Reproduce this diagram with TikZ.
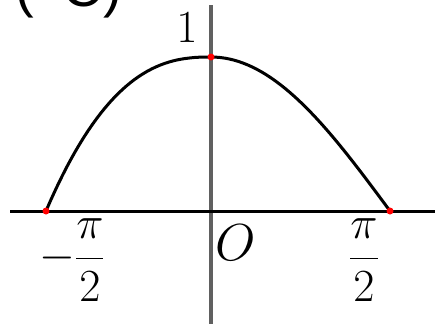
\RequirePackage{fix-cm}
\documentclass[tikz,border=0pt]{standalone}
\usepackage{amsmath}
\usepackage{fontspec}
\newfontfamily\headfont{Liberation Sans}
\usetikzlibrary{positioning}

\begin{document}
\begin{tikzpicture}[x=1pt,y=-1pt,
    lbl/.style={inner sep=0pt,font=\fontsize{46}{56}\selectfont},
    head/.style={inner sep=0pt,font=\headfont\fontsize{56}{60}\selectfont},
    dot/.style={circle,fill=red,inner sep=0pt,minimum size=7pt}]
    \useasboundingbox (0,0) rectangle (435,324);

    % Title (cut off at the top)
    \node[head, anchor=base west] (title) at (15,6) {(};
    \node[head, anchor=base east] (titlec) at (122,6) {C)};

    % Axes
    \coordinate (xl) at (10,211);
    \coordinate (xr) at (435,211);
    \coordinate (yt) at (211,5);
    \coordinate (yb) at (211,324);
    \draw[gray!75!black, line width=4pt] (yt) -- (yb);
    \draw[black, line width=3pt] (xl) -- (xr);

    % Arch through the three points
    \draw[black, line width=3pt, line cap=round]
        plot[domain=1:0, samples=40] ({211-165*\x},{211-154*(1-pow(\x,2.5))})
        -- plot[domain=0:90, samples=40] ({211+\x/90*179},{211-154*cos(\x)});

    % Marked points
    \node[dot] (left) at (46,211) {};
    \node[dot] (top) at (211,57) {};
    \node[dot] (right) at (390,211) {};

    % Labels
    \node[lbl] (one) at (187,28) {$1$};
    \node[lbl] (mhalf) at (72,260) {$-\dfrac{\pi}{2}$};
    \node[lbl, font=\fontsize{52}{56}\selectfont] (orig) at (236,243) {$O$};
    \node[lbl] (phalf) at (364,260) {$\dfrac{\pi}{2}$};
\end{tikzpicture}
\end{document}
